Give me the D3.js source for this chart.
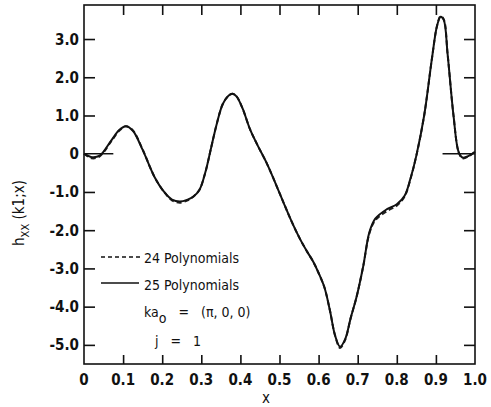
<!DOCTYPE html>
<html>
<head>
<meta charset="utf-8">
<script src="https://cdn.jsdelivr.net/npm/d3@7"></script>
<style>
  body { margin: 0; background: #fff; }
  svg text { font-family: "DejaVu Sans Condensed", "Liberation Sans Narrow", sans-serif; fill: #111; }
</style>
</head>
<body>
<div id="container"></div>
<script>
const W = 491, H = 407

const margin = { left: 84, top: 5, right: 16, bottom: 43 }

const xs = [0, 0.02, 0.04, 0.07, 0.09, 0.107, 0.125, 0.15, 0.18, 0.205, 0.225, 0.245, 0.265, 0.28, 0.295, 0.31,
    0.325, 0.34, 0.355, 0.37, 0.38, 0.39, 0.405, 0.425, 0.445, 0.467, 0.49, 0.51, 0.53, 0.552, 0.57, 0.586,
    0.6, 0.615, 0.629, 0.642, 0.655, 0.668, 0.682, 0.697, 0.714, 0.73, 0.745, 0.775, 0.8, 0.82, 0.835, 0.85,
    0.87, 0.89, 0.903, 0.912, 0.92, 0.93, 0.945, 0.958, 0.968, 0.985, 1.0]

// 25 polynomials (solid)
const ys25 = [0, -0.09, -0.05, 0.35, 0.62, 0.72, 0.6, 0.1, -0.6, -1.0, -1.2, -1.25, -1.2, -1.12, -0.95, -0.5,
    0.15, 0.8, 1.3, 1.52, 1.57, 1.5, 1.2, 0.63, 0.2, -0.24, -0.78, -1.27, -1.75, -2.22, -2.55, -2.82,
    -3.12, -3.5, -4.1, -4.75, -5.05, -4.85, -4.3, -3.75, -2.95, -2.05, -1.7, -1.45, -1.32, -1.1, -0.65, -0.05,
    1.0, 2.5, 3.35, 3.58, 3.5, 2.6, 1.0, 0.05, -0.1, -0.05, 0.05]

// 24 polynomials (dashed)
const ys24 = [0, -0.12, -0.07, 0.33, 0.6, 0.72, 0.61, 0.11, -0.6, -1.0, -1.22, -1.28, -1.22, -1.12, -0.95, -0.5,
    0.15, 0.8, 1.3, 1.52, 1.57, 1.5, 1.2, 0.63, 0.2, -0.24, -0.78, -1.27, -1.75, -2.22, -2.55, -2.82,
    -3.12, -3.5, -4.1, -4.75, -5.08, -4.87, -4.3, -3.75, -2.95, -2.08, -1.74, -1.5, -1.36, -1.12, -0.66, -0.05,
    1.0, 2.5, 3.35, 3.6, 3.52, 2.6, 1.0, 0.05, -0.12, -0.06, 0.05]

const xTicks = [0, 0.1, 0.2, 0.3, 0.4, 0.5, 0.6, 0.7, 0.8, 0.9, 1.0]
const xTickLabels = ["0", "0.1", "0.2", "0.3", "0.4", "0.5", "0.6", "0.7", "0.8", "0.9", "1.0"]
const yTicks = [3, 2, 1, 0, -1, -2, -3, -4, -5]
const yTickLabels = ["3.0", "2.0", "1.0", "0", "-1.0", "-2.0", "-3.0", "-4.0", "-5.0"]
const legendLabels = ["24 Polynomials", "25 Polynomials"]

const svg = d3.select('#container')
    .append('svg').attr('width', W).attr('height', H)

const inner_width = W - margin.left - margin.right
const inner_height = H - margin.top - margin.bottom

const x = d3.scaleLinear().domain([0, 1]).range([margin.left, margin.left + inner_width])
const y = d3.scaleLinear().domain([-5.5, 3.89]).range([margin.top + inner_height, margin.top])

// frame
svg.append('rect')
    .attr('x', x(0)).attr('y', y(3.89))
    .attr('width', x(1) - x(0)).attr('height', y(-5.5) - y(3.89))
    .attr('fill', 'none').attr('stroke', '#111').attr('stroke-width', 1.6)

// inward ticks on all four sides
const inner = xTicks.filter(d => d > 0 && d < 1)
svg.append('g').attr('transform', 'translate(0,' + y(-5.5) + ')')
    .call(d3.axisBottom(x).tickValues(inner).tickSize(-9).tickFormat(''))
svg.append('g').attr('transform', 'translate(0,' + y(3.89) + ')')
    .call(d3.axisTop(x).tickValues(inner).tickSize(-10).tickFormat(''))
svg.append('g').attr('transform', 'translate(' + x(0) + ',0)')
    .call(d3.axisLeft(y).tickValues(yTicks.filter(d => d !== 0)).tickSize(-11).tickFormat(''))
svg.append('g').attr('transform', 'translate(' + x(1) + ',0)')
    .call(d3.axisRight(y).tickValues(yTicks.filter(d => d !== 0)).tickSize(-11).tickFormat(''))
svg.selectAll('.domain').remove()
svg.selectAll('.tick line').attr('stroke', '#111').attr('stroke-width', 1.6)

// zero reference stubs
svg.append('line').attr('x1', x(0)).attr('x2', x(0.075)).attr('y1', y(0)).attr('y2', y(0))
    .attr('stroke', '#111').attr('stroke-width', 1.5)
svg.append('line').attr('x1', x(0.917)).attr('x2', x(1)).attr('y1', y(0)).attr('y2', y(0))
    .attr('stroke', '#111').attr('stroke-width', 1.5)

// tick labels
svg.selectAll('.xl').data(xTicks).enter().append('text')
    .attr('x', d => x(d)).attr('y', 385)
    .attr('text-anchor', 'middle').attr('font-size', 15).attr('font-weight', 'bold')
    .text((d, i) => xTickLabels[i])
svg.selectAll('.yl').data(yTicks).enter().append('text')
    .attr('x', 79).attr('y', d => y(d) + 5.5)
    .attr('text-anchor', 'end').attr('font-size', 15).attr('font-weight', 'bold')
    .text((d, i) => yTickLabels[i])

// axis titles
svg.append('text').attr('x', 266).attr('y', 403).attr('text-anchor', 'middle')
    .attr('font-size', 15).text('x')
const yl = svg.append('text').attr('transform', 'translate(24,213) rotate(-90)')
    .attr('text-anchor', 'middle').attr('font-size', 15)
yl.append('tspan').text('h')
yl.append('tspan').attr('dy', 5).attr('font-size', 11).text('XX')
yl.append('tspan').attr('dy', -5).text(' (k1;x)')

// curves
const line = d3.line().x(d => x(d[0])).y(d => y(d[1])).curve(d3.curveCatmullRom)
svg.append('path').attr('d', line(xs.map((v, i) => [v, ys24[i]])))
    .attr('fill', 'none').attr('stroke', '#222').attr('stroke-width', 2).attr('stroke-dasharray', '5 3')
svg.append('path').attr('d', line(xs.map((v, i) => [v, ys25[i]])))
    .attr('fill', 'none').attr('stroke', '#111').attr('stroke-width', 2)

// legend
const lg = svg.append('g')
lg.append('line').attr('x1', 101).attr('x2', 142).attr('y1', 257).attr('y2', 257)
    .attr('stroke', '#111').attr('stroke-width', 1.3).attr('stroke-dasharray', '4 3')
lg.append('line').attr('x1', 101).attr('x2', 139).attr('y1', 283).attr('y2', 283)
    .attr('stroke', '#111').attr('stroke-width', 1.3)
lg.append('text').attr('x', 144).attr('y', 263).attr('font-size', 14).text(legendLabels[0])
lg.append('text').attr('x', 144).attr('y', 290).attr('font-size', 14).text(legendLabels[1])
const ka = lg.append('text').attr('x', 144).attr('y', 317).attr('font-size', 14)
    .attr('xml:space', 'preserve').style('white-space', 'pre')
ka.append('tspan').text('ka')
ka.append('tspan').attr('dy', 6).text('o')
ka.append('tspan').attr('dy', -6).text('   =   (\u03c0, 0, 0)')
lg.append('text').attr('x', 178).attr('y', 346).attr('text-anchor', 'middle')
    .attr('font-size', 14).style('white-space', 'pre').text('j   =   1')
</script>
</body>
</html>
